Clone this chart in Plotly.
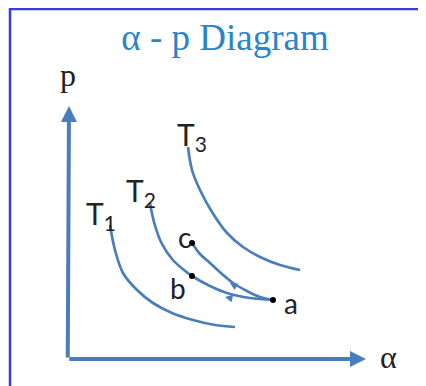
import plotly.graph_objects as go

# diagram units: 1 unit = 25 px, origin at the axes corner
T1_ALPHA = [1.64, 1.84, 2.16, 2.72, 3.36, 4.12, 4.96, 5.84, 6.64]
T1_P = [5.36, 4.36, 3.44, 2.76, 2.24, 1.84, 1.56, 1.36, 1.28]

T2_ALPHA = [3.24, 3.40, 3.68, 4.12, 4.60, 4.92, 5.64, 6.32, 7.24, 8.16]
T2_P = [6.24, 5.48, 4.68, 4.00, 3.56, 3.32, 2.92, 2.64, 2.44, 2.36]

T3_ALPHA = [4.76, 4.92, 5.24, 5.72, 6.32, 6.96, 7.64, 8.44, 9.24]
T3_P = [8.48, 7.56, 6.76, 5.88, 5.04, 4.48, 4.08, 3.76, 3.56]

CA_ALPHA = [4.92, 5.24, 5.64, 6.12, 6.56, 7.12, 7.64, 8.16]
CA_P = [4.64, 4.20, 3.84, 3.40, 3.04, 2.72, 2.48, 2.36]

POINT_NAMES = ["a", "b", "c"]
POINT_ALPHA = [8.16, 4.92, 4.92]
POINT_P = [2.36, 3.32, 4.64]

CURVE_LABELS = ["T<sub>1</sub>", "T<sub>2</sub>", "T<sub>3</sub>"]
CURVE_LABEL_ALPHA = [1.28, 2.88, 4.92]
CURVE_LABEL_P = [5.76, 6.68, 8.92]

POINT_LABEL_ALPHA = [8.88, 4.36, 4.60]
POINT_LABEL_P = [2.24, 2.84, 4.90]

AXIS_ALPHA_MAX = 11.88
AXIS_P_MAX = 10.12

LINE = "#4a7ebb"
TITLE = "#2a84cc"
FRAME = "#3a3ae0"

# the page has an 8 px body margin, so the figure starts at (8, 8)
W, H = 418, 378

fig = go.Figure()

for a, p in [(T1_ALPHA, T1_P), (T2_ALPHA, T2_P), (T3_ALPHA, T3_P), (CA_ALPHA, CA_P)]:
    fig.add_trace(go.Scatter(x=a, y=p, mode="lines", line=dict(color=LINE, width=2.7, shape="spline"),
                             hoverinfo="skip"))

fig.add_trace(go.Scatter(x=POINT_ALPHA, y=POINT_P, mode="markers",
                         marker=dict(color="black", size=6), text=POINT_NAMES, hoverinfo="text"))

# axes with arrows
fig.add_annotation(x=0, y=AXIS_P_MAX, ax=-0.05, ay=0, axref="x", ayref="y", xref="x", yref="y",
                   text="", showarrow=True, arrowhead=2, arrowsize=0.8, arrowwidth=4, arrowcolor=LINE,
                   standoff=0)
fig.add_annotation(x=AXIS_ALPHA_MAX, y=0, ax=-0.05, ay=0, axref="x", ayref="y", xref="x", yref="y",
                   text="", showarrow=True, arrowhead=2, arrowsize=0.8, arrowwidth=4, arrowcolor=LINE,
                   standoff=0)

# small direction arrows on the paths
fig.add_annotation(x=6.44, y=3.04, ax=6.68, ay=2.90, axref="x", ayref="y",
                   text="", showarrow=True, arrowhead=2, arrowsize=1, arrowwidth=1.5, arrowcolor=LINE)
fig.add_annotation(x=6.24, y=2.48, ax=6.48, ay=2.43, axref="x", ayref="y",
                   text="", showarrow=True, arrowhead=2, arrowsize=1, arrowwidth=1.5, arrowcolor=LINE)

for t, a, p in zip(CURVE_LABELS, CURVE_LABEL_ALPHA, CURVE_LABEL_P):
    fig.add_annotation(x=a, y=p, text=t, showarrow=False,
                       font=dict(family="Lato", size=30, color="#222222"))

for t, a, p in zip(POINT_NAMES, POINT_LABEL_ALPHA, POINT_LABEL_P):
    fig.add_annotation(x=a, y=p, text=t, showarrow=False,
                       font=dict(family="Lato", size=28, color="#222222"))

fig.add_annotation(x=-0.04, y=11.36, text="p", showarrow=False,
                   font=dict(family="Liberation Serif", size=32, color="#222222"))
fig.add_annotation(x=12.76, y=0.1, text="α", showarrow=False,
                   font=dict(family="Liberation Serif", size=32, color="#222222"))

# frame
fig.add_shape(type="rect", xref="paper", yref="paper", x0=2 / W, x1=1.05, y0=-0.05, y1=1 - 1 / H,
              line=dict(color=FRAME, width=2.5))

fig.update_layout(
    width=W,
    height=H,
    margin=dict(l=0, r=0, t=0, b=0),
    paper_bgcolor="white",
    plot_bgcolor="white",
    showlegend=False,
    title=dict(text="α - p Diagram", x=217 / W, y=1 - 29 / H, xanchor="center", yanchor="middle",
               font=dict(family="Liberation Serif", size=37, color=TITLE)),
    xaxis=dict(range=[-2.44, 14.28], visible=False, fixedrange=True),
    yaxis=dict(range=[-1.08, 14.04], visible=False, fixedrange=True),
)

fig.write_html("out.html")
